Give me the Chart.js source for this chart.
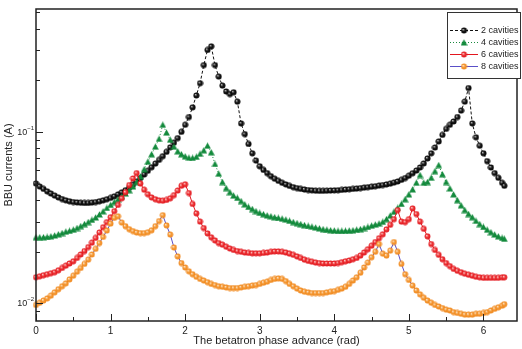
<!DOCTYPE html>
<html>
<head>
<meta charset="utf-8">
<script src="https://cdn.jsdelivr.net/npm/chart.js@4.4.1/dist/chart.umd.min.js"></script>
<style>
  html, body { margin: 0; padding: 0; background: #fff; }
  #wrap { width: 522px; height: 349px; position: relative; }
</style>
</head>
<body>
<div id="wrap"><canvas id="myChart"></canvas></div>
<script>
// betatron phase advance (rad), shared by all series
const phase = [
  0.00, 0.05, 0.10, 0.15, 0.20, 0.25, 0.30, 0.35, 0.40, 0.45,
  0.50, 0.55, 0.60, 0.65, 0.70, 0.75, 0.80, 0.85, 0.90, 0.95,
  1.00, 1.05, 1.10, 1.15, 1.20, 1.25, 1.30, 1.35, 1.40, 1.45,
  1.50, 1.55, 1.60, 1.65, 1.70, 1.75, 1.80, 1.85, 1.90, 1.95,
  2.00, 2.05, 2.10, 2.15, 2.20, 2.25, 2.30, 2.35, 2.40, 2.45,
  2.50, 2.55, 2.60, 2.65, 2.70, 2.75, 2.80, 2.85, 2.90, 2.95,
  3.00, 3.05, 3.10, 3.15, 3.20, 3.25, 3.30, 3.35, 3.40, 3.45,
  3.50, 3.55, 3.60, 3.65, 3.70, 3.75, 3.80, 3.85, 3.90, 3.95,
  4.00, 4.05, 4.10, 4.15, 4.20, 4.25, 4.30, 4.35, 4.40, 4.45,
  4.50, 4.55, 4.60, 4.65, 4.70, 4.75, 4.80, 4.85, 4.90, 4.95,
  5.00, 5.05, 5.10, 5.15, 5.20, 5.25, 5.30, 5.35, 5.40, 5.45,
  5.50, 5.55, 5.60, 5.65, 5.70, 5.75, 5.80, 5.85, 5.90, 5.95,
  6.00, 6.05, 6.10, 6.15, 6.20, 6.25, 6.28
];

// BBU threshold currents (A)
const cav2 = [
  0.050, 0.048, 0.0465, 0.045, 0.0437, 0.0425, 0.0415, 0.0406, 0.0399, 0.0394,
  0.0390, 0.0388, 0.0386, 0.0385, 0.0385, 0.0387, 0.0390, 0.0394, 0.0399, 0.0405,
  0.0412, 0.0421, 0.0432, 0.0444, 0.0457, 0.0473, 0.0492, 0.0514, 0.0538, 0.0564,
  0.0593, 0.0622, 0.0653, 0.0686, 0.0722, 0.0765, 0.0812, 0.0865, 0.092, 0.100,
  0.110, 0.122, 0.139, 0.163, 0.192, 0.245, 0.300, 0.315, 0.245, 0.21,
  0.186, 0.172, 0.166, 0.170, 0.150, 0.112, 0.097, 0.085, 0.075, 0.068,
  0.063, 0.060, 0.0575, 0.0552, 0.0533, 0.0518, 0.0505, 0.0494, 0.0484, 0.0476,
  0.0470, 0.0465, 0.0461, 0.0458, 0.0456, 0.0454, 0.0453, 0.0453, 0.0454, 0.0455,
  0.0456, 0.0457, 0.0459, 0.0461, 0.0463, 0.0465, 0.0467, 0.0470, 0.0473, 0.0476,
  0.0479, 0.0482, 0.0486, 0.0490, 0.0494, 0.0499, 0.0506, 0.0514, 0.0525, 0.0538,
  0.0555, 0.0574, 0.0595, 0.062, 0.0655, 0.070, 0.075, 0.081, 0.088, 0.096,
  0.104, 0.110, 0.115, 0.122, 0.133, 0.150, 0.180, 0.112, 0.093, 0.083,
  0.075, 0.0675, 0.062, 0.0575, 0.054, 0.0505, 0.0485
];
const cav4 = [
  0.0243, 0.0243, 0.0243, 0.0244, 0.0246, 0.0249, 0.0253, 0.0257, 0.0262, 0.0265,
  0.0269, 0.0275, 0.0282, 0.0290, 0.0298, 0.0307, 0.0317, 0.0330, 0.0344, 0.0360,
  0.0375, 0.039, 0.0405, 0.042, 0.0437, 0.0457, 0.048, 0.051, 0.055, 0.0605,
  0.067, 0.074, 0.082, 0.091, 0.110, 0.099, 0.090, 0.082, 0.077, 0.074,
  0.072, 0.0707, 0.0705, 0.0715, 0.0745, 0.078, 0.083, 0.076, 0.065, 0.057,
  0.051, 0.047, 0.0445, 0.0425, 0.0412, 0.0395, 0.0378, 0.0365, 0.0355, 0.0345,
  0.0337, 0.0331, 0.0326, 0.0322, 0.0318, 0.0315, 0.0312, 0.0308, 0.0303, 0.0298,
  0.0294, 0.0290, 0.0286, 0.0283, 0.0280, 0.0277, 0.0274, 0.0271, 0.0269, 0.0267,
  0.0266, 0.0265, 0.0265, 0.0265, 0.0266, 0.0267, 0.0269, 0.0271, 0.0275, 0.0279,
  0.0284, 0.0288, 0.0292, 0.0299, 0.0310, 0.0325, 0.0342, 0.036, 0.038, 0.0405,
  0.0432, 0.0462, 0.0505, 0.056, 0.0505, 0.051, 0.054, 0.059, 0.064, 0.0566,
  0.051, 0.0468, 0.0432, 0.040, 0.0373, 0.035, 0.0332, 0.0318, 0.0303, 0.029,
  0.0279, 0.0269, 0.026, 0.0252, 0.0246, 0.0241, 0.0238
];
const cav6 = [
  0.0142, 0.0144, 0.0146, 0.0148, 0.0150, 0.0152, 0.0156, 0.0161, 0.0166, 0.0171,
  0.0176, 0.0184, 0.0193, 0.0202, 0.0213, 0.0226, 0.0241, 0.0259, 0.0278, 0.0298,
  0.0318, 0.0345, 0.0375, 0.041, 0.0445, 0.049, 0.0535, 0.0575, 0.050, 0.046,
  0.0433, 0.0415, 0.0405, 0.0399, 0.0397, 0.0401, 0.041, 0.0428, 0.0455, 0.0485,
  0.0495, 0.044, 0.038, 0.0335, 0.030, 0.0275, 0.0256, 0.0243, 0.0233, 0.0225,
  0.0220, 0.0214, 0.0209, 0.0205, 0.0202, 0.0200, 0.0198, 0.0197, 0.0196, 0.0196,
  0.0196, 0.0197, 0.0198, 0.0200, 0.0201, 0.0201, 0.0200, 0.0198, 0.0195, 0.0192,
  0.0188, 0.0184, 0.0180, 0.0177, 0.0175, 0.0173, 0.0172, 0.0171, 0.0171, 0.0171,
  0.0171, 0.0172, 0.0174, 0.0176, 0.0178, 0.0181, 0.0184, 0.0190, 0.0198, 0.0207,
  0.0217, 0.0228, 0.0240, 0.0253, 0.027, 0.0287, 0.031, 0.035, 0.030, 0.0298,
  0.031, 0.0358, 0.0332, 0.030, 0.0272, 0.0246, 0.0222, 0.0205, 0.0192, 0.0181,
  0.0172, 0.0165, 0.0159, 0.0155, 0.0152, 0.0149, 0.0147, 0.0145, 0.0143, 0.0142,
  0.0141, 0.0141, 0.0141, 0.0141, 0.0141, 0.0142, 0.0142
];
const cav8 = [
  0.0098, 0.0101, 0.0104, 0.0107, 0.0111, 0.0116, 0.0121, 0.0126, 0.0131, 0.0138,
  0.0145, 0.0153, 0.0161, 0.0170, 0.0180, 0.0193, 0.0208, 0.0225, 0.0244, 0.0266,
  0.0292, 0.0315, 0.0322, 0.0296, 0.0282, 0.0271, 0.0264, 0.0259, 0.0257, 0.0257,
  0.0260, 0.0267, 0.0282, 0.0302, 0.0327, 0.0285, 0.0252, 0.0212, 0.0188, 0.0172,
  0.0162, 0.0154, 0.0148, 0.0143, 0.0139, 0.0136, 0.0133, 0.0130, 0.0128, 0.0126,
  0.0125, 0.0124, 0.0123, 0.0123, 0.0123, 0.0124, 0.0125, 0.0126, 0.0127, 0.0128,
  0.0130, 0.0132, 0.0134, 0.0137, 0.0139, 0.0140, 0.0139, 0.0135, 0.0130, 0.0126,
  0.0122, 0.0119, 0.0117, 0.0116, 0.0115, 0.0115, 0.0115, 0.0115, 0.0116, 0.0117,
  0.0118, 0.0120, 0.0122, 0.0125, 0.0130, 0.0136, 0.0142, 0.0151, 0.0162, 0.0173,
  0.0186, 0.0200, 0.0222, 0.0195, 0.0190, 0.0203, 0.0228, 0.0200, 0.0170, 0.0148,
  0.0137, 0.0127, 0.0119, 0.0113, 0.0108, 0.0104, 0.0101, 0.0098, 0.0096, 0.0094,
  0.0092, 0.0091, 0.0089, 0.0088, 0.0087, 0.0086, 0.0086, 0.0086, 0.0087, 0.0087,
  0.0088, 0.0089, 0.0091, 0.0093, 0.0095, 0.0097, 0.0099
];

const seriesNames = ['2 cavities', '4 cavities', '6 cavities', '8 cavities'];

const FONT = "'Liberation Sans', Arial, sans-serif";

// little marker sprites (shaded balls like the original plot)
function ball(r, edge, mid, hi) {
    const c = document.createElement('canvas');
    const s = Math.ceil(r * 2) + 1;
    c.width = c.height = s;
    const g = c.getContext('2d');
    const gr = g.createRadialGradient(s / 2 - r * 0.3, s / 2 - r * 0.3, 0, s / 2, s / 2, r);
    gr.addColorStop(0, hi);
    gr.addColorStop(0.4, mid);
    gr.addColorStop(1, edge);
    g.fillStyle = gr;
    g.beginPath();
    g.arc(s / 2, s / 2, r, 0, Math.PI * 2);
    g.fill();
    return c;
}
function tri(color) {
    const c = document.createElement('canvas');
    c.width = c.height = 7;
    const g = c.getContext('2d');
    g.fillStyle = color;
    g.beginPath();
    g.moveTo(3.5, 0.3);
    g.lineTo(6.9, 6.5);
    g.lineTo(0.1, 6.5);
    g.closePath();
    g.fill();
    return c;
}

const blackBall = ball(3, '#000', '#1e1e1e', '#e8e8e8');
const greenTri = tri('#138a3c');
const redBall = ball(2.9, '#e0121a', '#f04040', '#ffffff');
const orangeBall = ball(2.9, '#f0861a', '#f6a040', '#ffffff');

function pts(vals) {
    return phase.map((p, i) => ({ x: p, y: vals[i] }));
}

// ticks pointing inwards + frame + log labels + legend
const frameTicks = {
    id: 'frameTicks',
    afterDatasetsDraw(chart) {
        const { ctx, chartArea: a, scales: { x, y } } = chart;
        ctx.save();
        ctx.strokeStyle = '#222';
        ctx.lineWidth = 1;
        ctx.beginPath();
        x.ticks.forEach(t => {
            const px = Math.round(x.getPixelForValue(t.value)) + 0.5;
            const len = Math.abs(t.value - Math.round(t.value)) < 1e-6 ? 7 : 4;
            ctx.moveTo(px, a.bottom);
            ctx.lineTo(px, a.bottom - len);
        });
        ctx.fillStyle = '#222';
        y.ticks.forEach(t => {
            const v = t.value;
            const e = Math.floor(Math.log10(v) + 1e-9);
            const s = v / Math.pow(10, e);
            if (Math.abs(s - Math.round(s)) > 1e-6) return;
            const py = Math.round(y.getPixelForValue(v)) + 0.5;
            const major = Math.round(s) === 1;
            ctx.moveTo(a.left, py);
            ctx.lineTo(a.left + (major ? 7 : 4), py);
            if (major) {
                // 10 with raised exponent
                ctx.textBaseline = 'middle';
                ctx.textAlign = 'right';
                ctx.font = '6px ' + FONT;
                const ex = String(e).replace('-', '\u2212');
                ctx.fillText(ex, a.left - 2, py - 4);
                const w = ctx.measureText(ex).width;
                ctx.font = '9px ' + FONT;
                ctx.fillText('10', a.left - 2 - w, py);
            }
        });
        ctx.stroke();
        ctx.lineWidth = 1.5;
        ctx.strokeRect(a.left, a.top, a.right - a.left, a.bottom - a.top);
        ctx.restore();
    },
    afterDraw(chart) {
        // legend box, top right
        const ctx = chart.ctx;
        const bx = 447, by = 12, bw = 73, bh = 66;
        ctx.save();
        ctx.fillStyle = '#fff';
        ctx.fillRect(bx, by, bw, bh);
        ctx.strokeStyle = '#333';
        ctx.lineWidth = 1;
        ctx.strokeRect(bx + 0.5, by + 0.5, bw, bh);
        ctx.font = '9px ' + FONT;
        ctx.textBaseline = 'middle';
        ctx.fillStyle = '#222';
        chart.data.datasets.forEach((ds, i) => {
            const yy = 30.5 + i * 12;
            ctx.strokeStyle = ds.borderColor;
            ctx.lineWidth = 1;
            ctx.setLineDash(ds.borderDash || []);
            ctx.beginPath();
            ctx.moveTo(450, yy);
            ctx.lineTo(478, yy);
            ctx.stroke();
            ctx.setLineDash([]);
            const img = ds.pointStyle;
            ctx.drawImage(img, 464 - img.width / 2, yy - img.height / 2);
            ctx.fillText(ds.label, 481, yy);
        });
        ctx.restore();
    }
};

Chart.defaults.font.family = FONT;
Chart.defaults.color = '#222';

const data = {
    datasets: [
        {
            label: seriesNames[0], data: pts(cav2), order: 3,
            borderColor: '#111', borderWidth: 1, borderDash: [3, 2],
            pointStyle: blackBall, pointRadius: 3
        },
        {
            label: seriesNames[1], data: pts(cav4), order: 2,
            borderColor: '#1a8a3e', borderWidth: 1, borderDash: [1, 2],
            pointStyle: greenTri, pointRadius: 3
        },
        {
            label: seriesNames[2], data: pts(cav6), order: 1,
            borderColor: '#e3161e', borderWidth: 1,
            pointStyle: redBall, pointRadius: 3
        },
        {
            label: seriesNames[3], data: pts(cav8), order: 0,
            borderColor: '#5a4fc8', borderWidth: 1,
            pointStyle: orangeBall, pointRadius: 3
        }
    ]
};

const config = {
    type: 'line',
    data: data,
    plugins: [frameTicks],
    options: {
        responsive: true,
        maintainAspectRatio: false,
        animation: false,
        layout: { padding: { top: 7, right: 1, left: 0, bottom: 0 } },
        elements: { line: { tension: 0 } },
        datasets: { line: { clip: 6 } },
        plugins: {
            legend: { display: false },
            tooltip: { enabled: false }
        },
        scales: {
            x: {
                type: 'linear',
                min: 0,
                max: 6.45,
                grid: { display: false, drawTicks: false },
                border: { display: false },
                ticks: {
                    stepSize: 0.5,
                    autoSkip: false,
                    includeBounds: false,
                    maxRotation: 0,
                    padding: 4,
                    font: { size: 10 },
                    callback: v => (Math.abs(v - Math.round(v)) < 1e-6 ? String(Math.round(v)) : '')
                },
                title: {
                    display: true,
                    text: 'The betatron phase advance (rad)',
                    font: { size: 11 },
                    padding: { top: 0, bottom: 1 }
                },
                afterFit: s => { s.height = 28; }
            },
            y: {
                type: 'logarithmic',
                min: 0.0079,
                max: 0.52,
                grid: { display: false, drawTicks: false },
                border: { display: false },
                ticks: {
                    autoSkip: false,
                    padding: 3,
                    font: { size: 10 },
                    callback: () => ''
                },
                title: {
                    display: true,
                    text: 'BBU currents (A)',
                    font: { size: 11 },
                    padding: { top: 2, bottom: 0 }
                },
                afterFit: s => { s.width = 36; }
            }
        }
    }
};

const myChart = new Chart(document.getElementById('myChart'), config);
</script>
</body>
</html>
